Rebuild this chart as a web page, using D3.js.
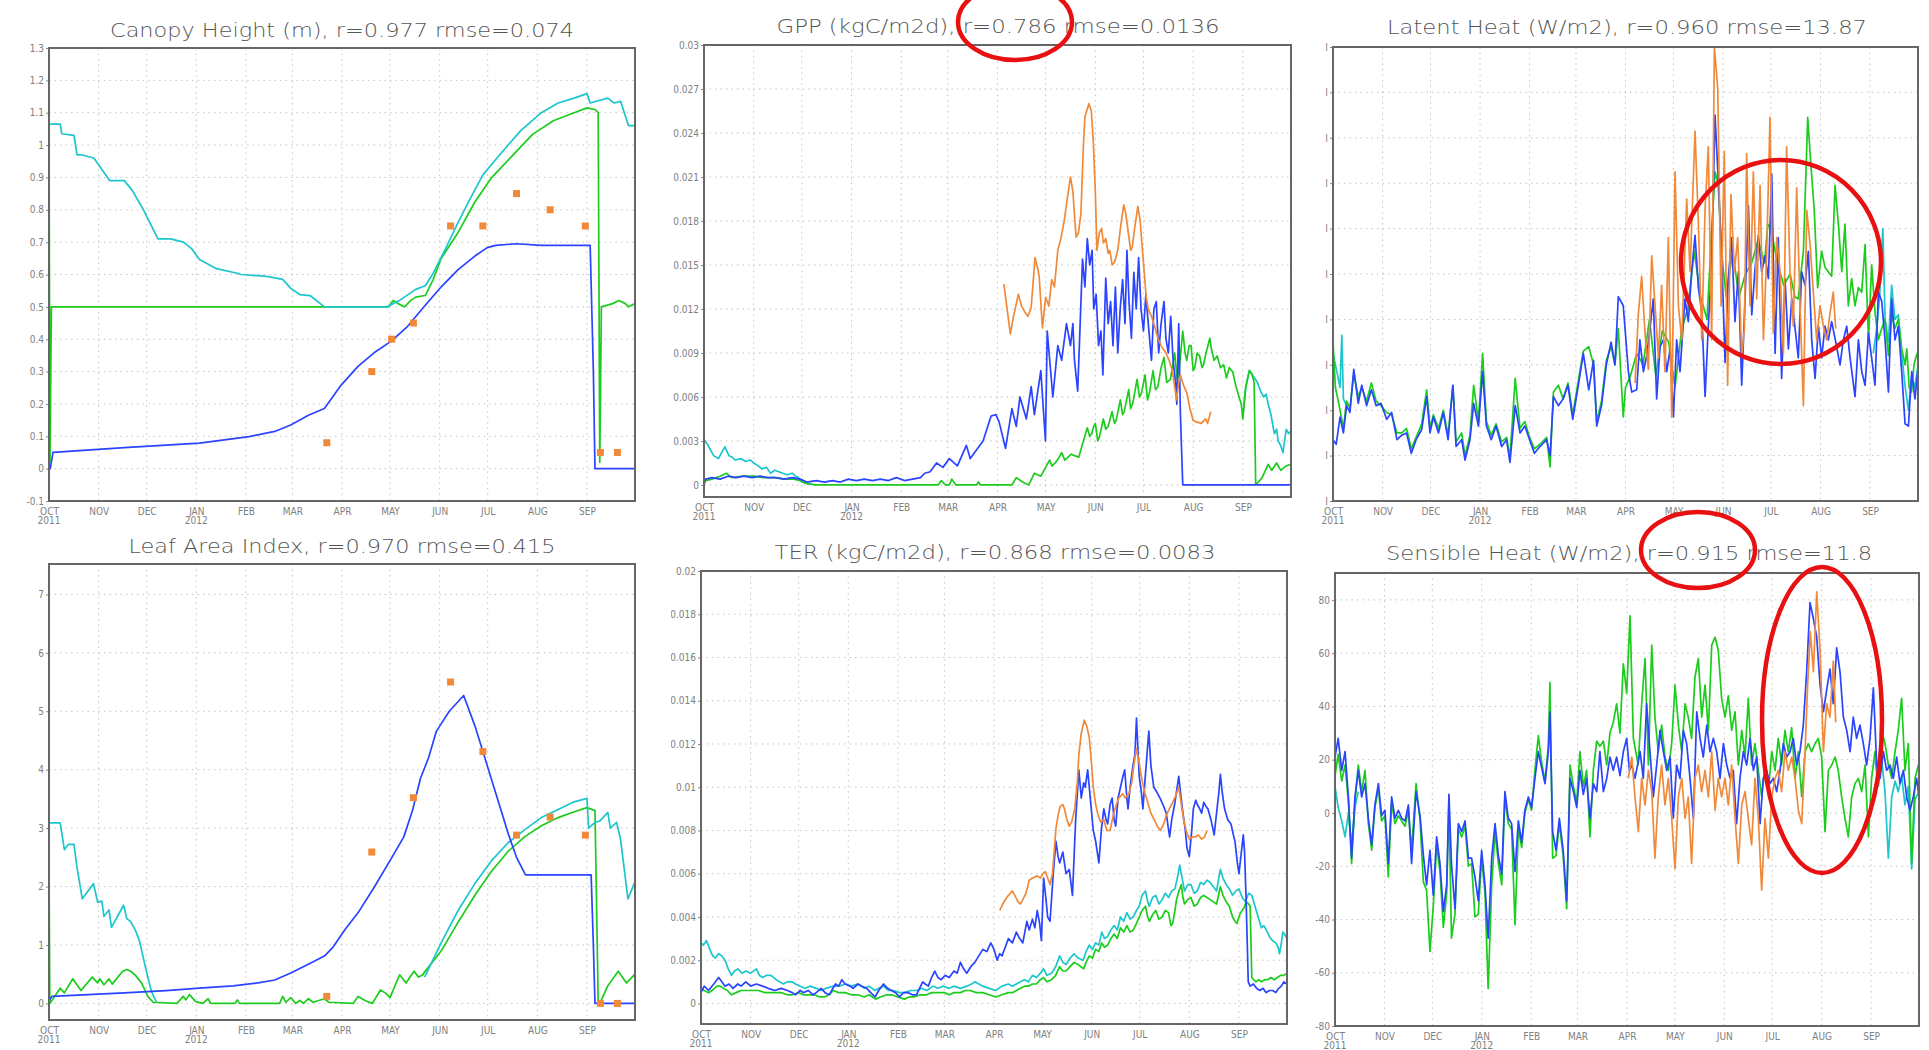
<!DOCTYPE html>
<html><head><meta charset="utf-8">
<script src="https://cdn.jsdelivr.net/npm/d3@7"></script>
<style>body{margin:0;background:#fff;overflow:hidden}svg{display:block}</style>
</head><body>
<svg id="c" width="1929" height="1050"></svg>
<script>
// ---------- shared axis data ----------
const monthDays = [0,31,61,92,123,152,183,213,244,274,305,336];
const monthLabels = ["OCT","NOV","DEC","JAN","FEB","MAR","APR","MAY","JUN","JUL","AUG","SEP"];
const yearDays = [0,92];
const yearLabels = ["2011","2012"];

// ---------- Canopy height ----------
const chTicks = [-0.1,0,0.1,0.2,0.3,0.4,0.5,0.6,0.7,0.8,0.9,1,1.1,1.2,1.3];
const chTickLabels = ["-0.1","0","0.1","0.2","0.3","0.4","0.5","0.6","0.7","0.8","0.9","1","1.1","1.2","1.3"];
const chCyan = [[0,1.065],[7,1.065],[8,1.035],[15.6,1.03],[17.5,0.97],[20,0.97],[28,0.96],[38,0.89],[47,0.89],[52,0.86],[59,0.80],[68,0.71],[76,0.71],[84,0.70],[89,0.68],[94,0.646],[104.6,0.618],[117.6,0.604],[120,0.60],[136,0.594],[146,0.585],[151,0.557],[156.6,0.538],[163,0.535],[172,0.50],[211,0.50],[215,0.51],[219,0.52],[229,0.554],[235,0.565],[240,0.604],[248,0.683],[255.5,0.761],[263,0.834],[271,0.908],[281.5,0.97],[294.5,1.044],[307.5,1.10],[318,1.13],[328,1.145],[336,1.159],[338,1.13],[349,1.145],[353,1.13],[357,1.135],[362,1.06],[366,1.06]];
const chGreen = [[0,1.04],[0.6,0.02],[1.5,0.5],[60,0.5],[120,0.5],[212,0.5],[215,0.52],[218,0.51],[222,0.50],[226,0.52],[229,0.53],[235,0.535],[240,0.585],[245,0.65],[255.5,0.73],[266,0.824],[276,0.897],[289,0.965],[302,1.033],[315,1.075],[328,1.1],[336,1.115],[341,1.11],[343,1.10],[344,0.02],[345,0.5],[352,0.51],[356,0.52],[360,0.51],[362,0.5],[366,0.51]];
const chBlue = [[0,0],[0.8,0.0],[2.5,0.05],[47,0.065],[94,0.079],[125,0.099],[141,0.115],[151,0.135],[162,0.165],[172,0.186],[182.6,0.259],[193,0.316],[203,0.358],[214,0.395],[224,0.44],[235,0.505],[245,0.562],[255.5,0.615],[266,0.657],[273.7,0.683],[279,0.69],[292,0.695],[307.5,0.69],[338,0.69],[340,0.30],[341,0.0],[366,0]];
const chObs = [[173.5,0.08],[201.6,0.30],[214,0.40],[227.6,0.45],[250.8,0.75],[271,0.75],[292,0.85],[313,0.80],[335,0.75],[344.4,0.05],[355,0.05]];

// ---------- Leaf area index ----------
const laiTicks = [0,1,2,3,4,5,6,7];
const laiTickLabels = ["0","1","2","3","4","5","6","7"];
const laiCyan = [[0,3.09],[7,3.09],[9.6,2.63],[12,2.72],[15.6,2.72],[17.4,2.34],[20.8,1.79],[27.8,2.05],[30.4,1.73],[33,1.75],[34.3,1.49],[37.5,1.6],[39,1.3],[46.6,1.68],[48.6,1.45],[51,1.4],[54,1.25],[56.5,1.07],[60.4,0.6],[64,0.2],[67,0.03],null,[234.6,0.45],[245,1.04],[255.5,1.59],[266,2.05],[276,2.43],[286.7,2.75],[297,2.97],[307.5,3.18],[318,3.32],[328,3.45],[336,3.51],[337,3.0],[341,3.1],[344,3.12],[349,3.27],[350.6,3.0],[354.5,3.1],[357,2.8],[361.6,1.79],[366,2.08]];
const laiGreen = [[0,2.4],[0.5,0.0],[1.8,0.05],[7,0.26],[9.6,0.18],[14.8,0.42],[17.4,0.32],[20,0.22],[27,0.45],[30.4,0.35],[31.7,0.42],[34.3,0.32],[37.5,0.42],[39.5,0.33],[46,0.55],[48.6,0.58],[51,0.55],[54,0.48],[57.8,0.35],[61.7,0.12],[65,0.02],[80,0.0],[83.8,0.12],[85.5,0.06],[87.7,0.15],[91.6,0.03],[96,0.0],[99.4,0.08],[101,0.0],[116,0.0],[117.6,0.06],[119,0.0],[144,0.0],[146,0.12],[148,0.02],[151,0.1],[154,0.0],[156.6,0.05],[159,0.0],[162,0.08],[165,0.02],[172,0.08],[174.8,0.02],[190,0.0],[193,0.12],[198,0.04],[202,0.0],[207,0.23],[210,0.18],[213,0.1],[219,0.49],[223,0.35],[228,0.55],[230.8,0.45],[233,0.48],[245,0.9],[255.5,1.39],[266,1.85],[276,2.25],[286.7,2.6],[297,2.85],[307.5,3.04],[318,3.18],[328,3.28],[336,3.35],[341,3.3],[343,0.05],[344,0.0],[349,0.3],[355.5,0.55],[360.7,0.35],[366,0.5]];
const laiBlue = [[0,0.05],[1.8,0.12],[47,0.18],[73,0.22],[94,0.26],[115,0.30],[130.6,0.35],[141,0.40],[151,0.52],[162,0.67],[172,0.81],[177,0.95],[185,1.27],[193,1.55],[203.4,2.0],[214,2.49],[221.6,2.85],[227,3.3],[232,3.85],[237,4.2],[242,4.66],[250,5.0],[259,5.27],[266,4.75],[271,4.31],[279,3.6],[287,2.89],[292,2.5],[297.6,2.2],[307.5,2.2],[338.6,2.2],[340,1.0],[341,0.0],[366,0.0]];
const laiObs = [[173.5,0.12],[201.6,2.59],[227.6,3.52],[250.8,5.5],[271,4.31],[292,2.88],[313,3.19],[335,2.88],[344.4,0.0],[355,0.0]];

// ---------- GPP ----------
const gppTicks = [0,0.003,0.006,0.009,0.012,0.015,0.018,0.021,0.024,0.027,0.03];
const gppTickLabels = ["0","0.003","0.006","0.009","0.012","0.015","0.018","0.021","0.024","0.027","0.03"];
const gppCyan = [[0,0.0031],[2,0.0028],[4,0.0024],[6,0.0020],[9,0.0018],[11,0.0022],[13,0.0026],[15.6,0.0020],[17.5,0.0019],[19.5,0.0017],[23,0.0018],[26,0.0016],[29,0.0017],[31,0.0015],[34,0.0013],[36,0.0011],[39,0.0012],[41.5,0.0008],[44,0.0010],[46.7,0.0009],[49,0.0008],[52,0.0007],[55,0.0008],[57,0.0006],[59,0.0005],[61,0.0002],[64,0.0001],[70,0.0],null,[336,0.0047],[338,0.0068],[340,0.0078],[342,0.0075],[345,0.0070],[347,0.0064],[349,0.0060],[350.5,0.0062],[351.8,0.0055],[353.5,0.0048],[355.6,0.0035],[357,0.0038],[358,0.0030],[359.5,0.0027],[361,0.0022],[362,0.0030],[363,0.0038],[364.5,0.0035],[366,0.0037]];
const gppGreen = [[0,0.0003],[1,0.0003],[5,0.0004],[10,0.0006],[14,0.0008],[16,0.0006],[18,0.0005],[24,0.0006],[31,0.0006],[37,0.0005],[44,0.0005],[50,0.0004],[56,0.0004],[60,0.0003],[63.6,0.0001],[70,0.0],[146,0.0],[148,0.0003],[150.6,0.0],[153,0.0],[154.5,0.0004],[157,0.0],[170,0.0],[171,0.0002],[172.5,0.0],[192,0.0],[194.7,0.0005],[198.6,0.0002],[202.5,0.0],[206,0.0008],[210,0.0006],[213,0.0012],[215.5,0.0017],[217,0.0013],[219,0.0015],[221,0.0018],[223,0.0022],[225,0.0017],[227,0.0019],[229,0.0021],[231,0.0020],[233.7,0.0019],[236,0.0028],[239,0.0039],[240.5,0.0033],[241.7,0.0035],[243,0.0040],[244,0.0042],[245.5,0.0030],[246.6,0.0033],[249,0.0045],[250.5,0.0038],[252,0.0040],[254.4,0.0050],[256,0.0042],[257,0.0044],[259.6,0.0058],[261,0.0048],[262,0.0050],[264.8,0.0065],[266,0.0052],[267.4,0.0056],[270,0.0072],[271.5,0.0060],[272.6,0.0062],[275,0.0075],[276.5,0.0058],[277.8,0.0063],[280,0.0078],[281.5,0.0065],[283,0.0067],[285,0.0080],[286.8,0.0087],[288.5,0.0070],[290.8,0.0072],[293.5,0.0090],[295,0.0072],[296,0.0075],[298.5,0.0105],[300,0.0090],[301,0.0085],[302.5,0.0095],[303.7,0.0095],[305,0.0078],[306,0.0080],[307.5,0.0090],[309,0.0088],[310.5,0.0080],[311.5,0.0082],[313,0.0090],[315.4,0.0100],[316.5,0.0092],[318,0.0085],[320,0.0088],[322,0.0080],[324,0.0082],[325.8,0.0073],[327.5,0.0080],[329.7,0.0077],[331.5,0.0068],[333.6,0.0060],[335,0.0055],[336,0.0045],[337.5,0.0065],[340,0.0078],[341.5,0.0076],[343,0.0070],[344,0.0],[348,0.0005],[351.8,0.0014],[354,0.0010],[357,0.0015],[359.6,0.0010],[363,0.0013],[366,0.0014]];
const gppBlue = [[0,0.0],[1,0.0004],[5,0.0005],[10,0.0004],[15,0.0006],[20,0.0005],[25,0.0006],[30,0.0005],[35,0.0006],[40,0.0005],[45,0.0005],[50,0.0004],[55,0.0005],[60,0.0004],[64,0.0002],[70,0.0003],[75,0.0002],[80,0.0003],[85,0.0002],[90,0.0004],[95,0.0003],[100,0.0004],[105,0.0003],[110,0.0004],[115,0.0003],[120,0.0005],[125,0.0003],[130,0.0004],[135,0.0005],[137.6,0.0008],[141,0.0009],[145,0.0015],[149,0.0012],[153,0.0018],[158,0.0013],[163.6,0.0027],[166,0.0018],[170,0.0024],[174,0.003],[179,0.0047],[182,0.0048],[184,0.0043],[188,0.0025],[192,0.0052],[194.7,0.004],[197,0.006],[201,0.0045],[204,0.0067],[206,0.0048],[210,0.0078],[212.9,0.003],[214,0.0105],[217.5,0.006],[220.6,0.0095],[223,0.0085],[226,0.011],[228.5,0.0095],[230,0.011],[231,0.0085],[233,0.0064],[236,0.0154],[237.5,0.0135],[239,0.0168],[240.5,0.0150],[242,0.0160],[243,0.0120],[244.5,0.0130],[246,0.0095],[247.5,0.0105],[248.7,0.0075],[250.5,0.0141],[252,0.0110],[253.5,0.0125],[255,0.0095],[256.5,0.0135],[258,0.0090],[259.5,0.0120],[261,0.0140],[262.5,0.0110],[263.7,0.0160],[265,0.0125],[266.5,0.0100],[268,0.0145],[269.5,0.0120],[271,0.0155],[272.5,0.0120],[274,0.0105],[275.5,0.0130],[277,0.0110],[279,0.0085],[280.5,0.0120],[282,0.0125],[283.5,0.0090],[285,0.0110],[286.8,0.0125],[288,0.0100],[289.5,0.0090],[291,0.0115],[292.5,0.0085],[294,0.0070],[294.8,0.0055],[296,0.0110],[297,0.0050],[298.5,0.0],[366,0.0]];
const gppOrange = [[187,0.0137],[189,0.0120],[191,0.0103],[193,0.0115],[196,0.0130],[198,0.0122],[200,0.0118],[202,0.0115],[204,0.0121],[206.4,0.0155],[208,0.0148],[209,0.0142],[211,0.0107],[213,0.0128],[215,0.0122],[216.8,0.0140],[218.5,0.0135],[220.6,0.0160],[222.5,0.0168],[224.6,0.0180],[226.5,0.0195],[228.5,0.0210],[230,0.0200],[232,0.0169],[233.5,0.0172],[235,0.0185],[236.5,0.0230],[237.5,0.0251],[240,0.0260],[241.5,0.0255],[242.7,0.0235],[244,0.0200],[245,0.0160],[246.5,0.0172],[247.9,0.0175],[249,0.0165],[250.5,0.0168],[252,0.0158],[253,0.0160],[254.5,0.0150],[256,0.0152],[258,0.0160],[260,0.0178],[261.7,0.0191],[263,0.0185],[264.8,0.0170],[266,0.0160],[267,0.0162],[268.5,0.0175],[270.5,0.0190],[272,0.0180],[273,0.0165],[274.5,0.0145],[275.7,0.0128],[277,0.0120],[279,0.0115],[281,0.0108],[283,0.0100],[285,0.0095],[288,0.0090],[290,0.0085],[292,0.0078],[294.6,0.0058],[296,0.0070],[297,0.0075],[299,0.0068],[301,0.0063],[303,0.0052],[305,0.0044],[307,0.0043],[310,0.0042],[312.8,0.0045],[314,0.0042],[316,0.0050]];

// ---------- TER ----------
const terTicks = [0,0.002,0.004,0.006,0.008,0.01,0.012,0.014,0.016,0.018,0.02];
const terTickLabels = ["0","0.002","0.004","0.006","0.008","0.01","0.012","0.014","0.016","0.018","0.02"];
const terCyan = [[0,0.0028],[1.5,0.0027],[3.4,0.0029],[5.5,0.0025],[7.3,0.0022],[9,0.0021],[11,0.0023],[13,0.0022],[15,0.0020],[17,0.0016],[19,0.0013],[21,0.0015],[23,0.0016],[25.5,0.0014],[28,0.0015],[31,0.0014],[34.6,0.0016],[36.5,0.0013],[38.5,0.0012],[41,0.0013],[43.7,0.0013],[47,0.0011],[49,0.0010],[51.5,0.0009],[54,0.0010],[56.7,0.0010],[59,0.0009],[62,0.0008],[65,0.0007],[68,0.0008],[72,0.0007],[75,0.0006],[78,0.0007],[82.7,0.0008],[86,0.0008],[90.5,0.0009],[94,0.0008],[98,0.0009],[102,0.0007],[105,0.0008],[108.7,0.0006],[111,0.0007],[114,0.0008],[117,0.0006],[120,0.0006],[124,0.0005],[127,0.0005],[131,0.0006],[134.6,0.0006],[138,0.0007],[141,0.0006],[145,0.0008],[148,0.0007],[151,0.0008],[155,0.0007],[158,0.0008],[162,0.0007],[166,0.0008],[169,0.0009],[171,0.0010],[173.5,0.0009],[176,0.0008],[180,0.0007],[184,0.0006],[188,0.0008],[192,0.0009],[194.5,0.0008],[197,0.0009],[199.5,0.0010],[202,0.0011],[204.5,0.0010],[207,0.0013],[209.5,0.0012],[212,0.0014],[214,0.0016],[216,0.0013],[219,0.0014],[221.5,0.0017],[224,0.0022],[226,0.0019],[228,0.0018],[230.5,0.0021],[233,0.0023],[235.5,0.0021],[238.7,0.0020],[240.5,0.0024],[242.5,0.0027],[244.5,0.0025],[246.4,0.0028],[248.5,0.0027],[250.3,0.0033],[252,0.0030],[254,0.0031],[256,0.0034],[258,0.0036],[260,0.0034],[262,0.0040],[264,0.0038],[266,0.0042],[268,0.0039],[270,0.0040],[272,0.0043],[273.7,0.0045],[275.5,0.0050],[277.6,0.0052],[279,0.0047],[280,0.0045],[282,0.0049],[284,0.0050],[286,0.0046],[288,0.0048],[290,0.0051],[292,0.0049],[294,0.0052],[296,0.0053],[297.5,0.0058],[299,0.0064],[300.5,0.0058],[302,0.0052],[304,0.0055],[306,0.0055],[308,0.0051],[310,0.0052],[312,0.0056],[314,0.0055],[316,0.0057],[318,0.0056],[320,0.0054],[322,0.0052],[324.4,0.0062],[326,0.0058],[328,0.0055],[330,0.0053],[332,0.0050],[334,0.0052],[336,0.0053],[338,0.0049],[340,0.0047],[342,0.0051],[344,0.0050],[346,0.0045],[348,0.0040],[350,0.0035],[351.5,0.0036],[353,0.0034],[355,0.0031],[357,0.0029],[359,0.0028],[360.5,0.0026],[361.3,0.0023],[362.5,0.0028],[363.4,0.0033],[364.5,0.0032],[366,0.0030]];
const terGreen = [[0,0.0007],[2,0.0006],[4.7,0.0005],[7,0.0006],[10,0.0008],[12,0.0008],[14,0.0007],[16.5,0.0006],[19,0.0004],[22,0.0005],[25,0.0006],[28,0.0006],[32,0.0006],[36,0.0006],[40,0.0005],[46,0.0005],[50,0.0005],[54,0.0004],[57,0.0004],[61,0.0005],[64,0.0004],[67,0.0004],[71,0.0004],[74,0.0003],[77,0.0003],[80,0.0004],[82.7,0.0006],[86,0.0005],[90,0.0005],[94,0.0004],[98,0.0004],[102,0.0003],[105,0.0004],[109,0.0002],[112,0.0003],[116,0.0004],[119,0.0004],[123,0.0003],[127,0.0002],[130,0.0003],[133,0.0003],[137,0.0004],[141,0.0004],[144,0.0005],[148,0.0005],[152,0.0005],[155,0.0004],[158,0.0005],[162,0.0005],[165,0.0006],[168,0.0006],[172,0.0005],[176,0.0005],[180,0.0004],[184,0.0003],[188,0.0004],[192,0.0005],[194.5,0.0005],[197,0.0006],[199.5,0.0007],[202,0.0008],[204.5,0.0008],[207,0.0009],[209.5,0.0009],[212,0.0011],[214,0.0012],[216,0.0010],[219,0.0011],[221.5,0.0013],[224,0.0017],[226,0.0015],[228,0.0015],[230.5,0.0017],[233,0.0019],[235.5,0.0018],[239,0.0016],[240.5,0.0019],[242.5,0.0022],[244.5,0.0021],[246.4,0.0025],[248.5,0.0024],[250.3,0.0028],[252,0.0026],[254,0.0027],[256,0.0030],[258,0.0032],[260,0.0030],[262,0.0035],[264,0.0033],[266,0.0036],[268,0.0033],[270,0.0034],[272,0.0037],[273.7,0.0040],[275.5,0.0043],[277.6,0.0045],[279,0.0040],[280,0.0038],[282,0.0041],[284,0.0043],[286,0.0039],[288,0.0040],[290,0.0043],[292,0.0042],[293.5,0.0036],[294.6,0.0037],[296,0.0043],[297,0.0048],[298.5,0.0052],[300,0.0055],[301,0.0049],[302,0.0046],[304,0.0048],[306,0.0049],[308,0.0045],[310,0.0046],[312,0.0049],[314,0.0050],[316,0.0049],[318,0.0048],[320,0.0047],[322,0.0046],[324.4,0.0054],[326,0.0050],[328,0.0047],[330,0.0045],[332,0.0040],[333.5,0.0038],[334.7,0.0037],[336,0.0040],[337,0.0042],[339,0.0044],[340.5,0.0047],[342,0.0046],[343,0.0045],[344,0.0012],[346.5,0.0010],[348.5,0.0011],[350,0.0010],[352,0.0011],[354,0.0011],[356,0.0012],[358,0.0011],[360,0.0012],[362,0.0013],[364,0.0013],[366,0.0014]];
const terBlue = [[0,0.0005],[2,0.0008],[4.7,0.0006],[8,0.0009],[11,0.0012],[13,0.0010],[15,0.0008],[17.5,0.0009],[20,0.0007],[23,0.0009],[25,0.0008],[28,0.0010],[31,0.0008],[34.6,0.0009],[38.5,0.0008],[42,0.0007],[46,0.0006],[50,0.0007],[54,0.0006],[57,0.0005],[59,0.0004],[62,0.0006],[64,0.0005],[67,0.0006],[70,0.0004],[72,0.0005],[75,0.0007],[77.5,0.0005],[80,0.0004],[84,0.0009],[86,0.0008],[88,0.0011],[90,0.0009],[93,0.0008],[95,0.0007],[98,0.0009],[100.5,0.0008],[103.5,0.0007],[106,0.0005],[108.7,0.0003],[111,0.0006],[114,0.0009],[116.5,0.0007],[119,0.0006],[121.5,0.0005],[124,0.0003],[126.5,0.0005],[129.5,0.0005],[132,0.0004],[134.6,0.0004],[136.5,0.0007],[138.5,0.0010],[140,0.0009],[142,0.0008],[144,0.0012],[146,0.0015],[148,0.0012],[150,0.0011],[152.5,0.0013],[155,0.0012],[158,0.0015],[160,0.0014],[162,0.0019],[164,0.0016],[166,0.0014],[168.5,0.0017],[171,0.0019],[173.5,0.0022],[176,0.0025],[178.5,0.0024],[181,0.0028],[183,0.0025],[185,0.0020],[186.5,0.0023],[188,0.0022],[190,0.0026],[192,0.0030],[194.5,0.0028],[197,0.0033],[199,0.0030],[201,0.0028],[203.5,0.0038],[205,0.0034],[207,0.0039],[208.5,0.0035],[210,0.0043],[211.5,0.0037],[212.6,0.0029],[214,0.0058],[215.5,0.0048],[216.5,0.0040],[218,0.0038],[220,0.0060],[221.7,0.0075],[223,0.0068],[224,0.0065],[226,0.0070],[228,0.0060],[230,0.0062],[232,0.0050],[234,0.0085],[236,0.0108],[237.5,0.0095],[239,0.0102],[240,0.0100],[241.5,0.0108],[242.5,0.0100],[244,0.0088],[245,0.0080],[246.5,0.0075],[248.5,0.0065],[250,0.0080],[251.6,0.0090],[253,0.0085],[254,0.0083],[255.5,0.0092],[256.8,0.0095],[258,0.0085],[259,0.0082],[260.5,0.0095],[262,0.0100],[263.5,0.0105],[264.6,0.0108],[266,0.0095],[266.7,0.0090],[268,0.0100],[269.8,0.0110],[271,0.0115],[272,0.0132],[273.7,0.0105],[275,0.0098],[276,0.0090],[277.5,0.0105],[279.7,0.0126],[281,0.0110],[282.8,0.0100],[284.5,0.0098],[286.7,0.0095],[288.5,0.0092],[290.6,0.0088],[291.7,0.0082],[292.7,0.0077],[294,0.0085],[295.8,0.0092],[297,0.0098],[298.4,0.0105],[299.7,0.0096],[301,0.0088],[302.5,0.0080],[303.5,0.0072],[305,0.0068],[306.5,0.0080],[307.5,0.0090],[309,0.0094],[310,0.0092],[311.5,0.0090],[312.7,0.0088],[314,0.0093],[315.5,0.0091],[316.6,0.0090],[318.5,0.0085],[320.5,0.0078],[322,0.0088],[323.5,0.0098],[324.4,0.0106],[325.5,0.0098],[327,0.0090],[329,0.0085],[331,0.0083],[332.5,0.0078],[333.5,0.0075],[335,0.0065],[336,0.0060],[337.5,0.0070],[338.7,0.0078],[339.5,0.0070],[340.5,0.0047],[341.8,0.0010],[343,0.0008],[345,0.0009],[347,0.0007],[349,0.0006],[351,0.0007],[353,0.0005],[355,0.0006],[357,0.0006],[359,0.0005],[360.8,0.0007],[362.5,0.0008],[364,0.0010],[366,0.0009]];
const terOrange = [[186.6,0.0043],[188.5,0.0046],[190,0.0048],[192,0.0050],[194.4,0.0052],[196,0.0050],[198,0.0047],[199.5,0.0046],[201,0.0048],[203,0.0051],[205,0.0057],[207,0.0058],[210,0.0059],[212,0.0058],[213.5,0.0060],[215,0.0061],[216.5,0.0058],[218,0.0055],[219.5,0.0060],[221.7,0.0081],[223,0.0087],[224.3,0.0091],[226,0.0092],[227,0.0090],[228.5,0.0085],[230,0.0082],[231.5,0.0084],[233.4,0.0090],[235,0.0102],[236,0.0115],[237.5,0.0125],[239.4,0.0131],[241,0.0128],[242.5,0.0123],[244,0.0110],[245,0.0100],[246.5,0.0092],[247.7,0.0088],[249.5,0.0084],[251.6,0.0085],[253.5,0.0080],[255.5,0.0080],[257.5,0.0087],[259.4,0.0092],[261,0.0095],[263.3,0.0097],[265,0.0095],[267.2,0.0097],[269,0.0102],[270.3,0.0110],[272,0.0118],[273.5,0.0112],[275,0.0105],[277,0.0098],[279,0.0093],[281,0.0088],[283,0.0085],[285,0.0082],[287,0.0080],[289,0.0083],[290.6,0.0087],[292.5,0.0090],[294.6,0.0093],[296.5,0.0096],[298.4,0.0100],[300,0.0092],[301.5,0.0085],[303,0.0080],[305,0.0076],[307,0.0077],[308.8,0.0077],[310.5,0.0078],[312.7,0.0076],[314.5,0.0077],[316,0.0080]];

// ---------- Latent heat ----------
const leTicks = [-20,0,20,40,60,80,100,120,140,160,180];
const leTickLabels = ["I","I","I","I","I","I","I","I","I","I","I"];
const leCyan = [[0,45],[1.5,40],[3,35],[4.4,30],[5.5,53],[6.5,25],[8.5,22],null,[338,45],[340,55],[342,70],[344,100],[345.4,60],[347.5,50],[349.5,75],[351.6,60],[353.7,62],[355.8,45],[358,30],[360,20],[362,35],[364,30],[366,40]];
const leGreen = [[0,50],[1.5,30],[3,25],[4.4,20],[6.5,12],[8.5,24],[10.6,21],[13,36],[15.8,26],[18,30],[21,24],[24,32],[27,24],[30,22],[33.6,19],[36.7,18],[40,10],[43,10],[46,12],[49,3],[52,8],[55.5,14],[58.6,29],[60.7,12],[62.8,18],[66,12],[69,20],[72,9],[75,31],[77,6],[80.5,10],[82.6,0],[85.7,9],[88,31],[91,15],[93.6,45],[96,15],[99,9],[102,14],[105.5,6],[108.6,8],[110.7,-1],[114,34],[117,12],[120,15],[123,8],[126,3],[129.5,5],[133.7,8],[135.8,-5],[137.9,28],[141,31],[144,25],[147,32],[150,18],[153.5,33],[156.6,46],[160,48],[163,40],[165,15],[168,24],[171,42],[174,48],[176.4,40],[178.5,56],[181.6,17],[183,30],[186,35],[190,45],[194,40],[198,60],[202,35],[206,55],[210,50],[214,30],[218,55],[222,65],[226,90],[230,70],[234,60],[237,100],[239,125],[241,120],[243,90],[246,70],[250,90],[254,70],[258,80],[262,85],[266,95],[270,85],[272,102],[274,100],[278,85],[282,75],[286,80],[289,70],[291,69],[294.3,90],[297,149],[299,128],[301.1,108],[303.2,74],[305.7,90],[307.8,83],[309.9,81],[312,79],[314.1,119],[316.2,102],[318.3,81],[320.3,102],[322.4,66],[324.5,78],[326.6,66],[328.7,74],[330.8,72],[332.9,93],[335,51],[337,84],[339.1,63],[341.2,51],[343.3,56],[345.4,60],[347.5,44],[349.5,62],[351.6,56],[353.7,60],[355.8,47],[357.9,40],[359,47],[360.5,30],[362,28],[363.5,40],[365,44],[366,46]];
const leBlue = [[0,7],[2,5],[4.4,17],[6.5,10],[8.5,22],[10.6,19],[13,38],[15.8,23],[18,31],[21,22],[24,29],[27,22],[30,23],[33.6,16],[36.7,19],[40,7],[43,9],[46,10],[49,1],[52,7],[55.5,11.5],[58.6,26],[60.7,10],[62.8,17],[66,10],[69,19],[72,7],[75,31],[77,4],[80.5,7],[82.6,-2],[85.7,7],[88,23],[91,13],[93.6,37],[96,13],[99,7],[102,13],[105.5,4],[108.6,7],[110.7,-3],[114,22],[117,10],[120,13],[123,7],[126,1],[129.5,4],[133.7,7],[135.8,0],[137.9,26],[141,22],[144,25],[147,31],[150,16],[153.5,31],[156.6,45],[160,29],[163,42],[165,13],[168,22],[171,40],[174,50],[176.4,40],[178.5,70],[181.6,66],[184.8,37],[186.9,28],[190,29],[192,51],[194.2,37],[196.3,44],[198.3,56],[200.4,69],[202.5,25],[204.6,48],[206.7,51],[208.8,37],[210.9,47],[213,17],[215,51],[217.1,37],[220.2,69],[222.3,59],[224.4,81],[226.5,97],[228.6,74],[230.7,63],[232.8,26],[234.8,57],[236.9,84],[239,150],[241,122],[243.2,88],[245.3,41],[247.3,78],[249.4,96],[251.5,59],[253.6,81],[255.7,31],[257.8,69],[259.9,110],[262,62],[264,82],[266.1,97],[268.2,81],[270.3,88],[272.4,78],[274.5,124],[276.6,45],[278.6,96],[280.7,34],[282.8,78],[284.9,47],[287,69],[289.1,56],[291.1,43],[293.2,81],[295.3,75],[297.4,90],[299.5,51],[301.6,34],[303.7,57],[305.7,43],[307.8,57],[309.9,51],[312,59],[315.1,48],[317.2,40],[319.3,51],[321.4,57],[323.5,43],[326.6,26],[328.7,51],[330.8,37],[332.9,31],[335,54],[337,43],[339.1,31],[341.2,72],[343.3,68],[345.4,51],[347.5,28],[349.5,69],[351.6,51],[353.7,57],[355.8,37],[357.9,14],[360,13],[362.1,37],[364.1,25],[365.8,37]];
const leOrange = [[189,32],[191,62],[193.1,79],[195.2,54],[197.3,38],[199.4,88],[201.5,66],[203.6,43],[205.6,75],[207.7,37],[209.8,96],[211.9,17],[214,125],[216.1,66],[218.2,51],[221.3,113],[223.4,81],[226.5,143],[228.6,102],[230.7,51],[232.8,109],[234.8,136],[236.9,51],[238.6,180],[240.7,162],[242.8,66],[244.8,134],[246.9,31],[249,115],[251.1,81],[253.2,96],[255.7,44],[257.4,56],[258.8,133],[260.9,66],[263,125],[265.1,69],[267.2,119],[269.3,51],[271.3,88],[273.4,149],[275.5,54],[277.6,96],[279.7,81],[281.8,45],[283.8,136],[285.9,81],[288,57],[290.1,118],[292.2,66],[294.3,22],[296.4,108],[298.5,93],[300.5,72],[302.6,51],[304.7,66],[306.8,57],[308.9,51],[311,63],[313,72],[314.5,56]];

// ---------- Sensible heat ----------
const shTicks = [-80,-60,-40,-20,0,20,40,60,80];
const shTickLabels = ["-80","-60","-40","-20","0","20","40","60","80"];
const shCyan = [[0,10],[2,2],[4.2,-3],[6.3,-9],[8.4,0],[10.4,-12],[12.5,2],[14.6,8],null,[338.4,20],[340.5,10],[342.6,20],[344.7,8],[346.8,-17],[348.9,6],[351,12],[353,8],[355.1,14],[357.2,3],[359.3,10],[361.4,-21],[363.5,5],[366,8]];
const shGreen = [[0,14],[2,22],[4.2,12],[6.3,18],[8.4,4],[10.4,-19],[12.5,4],[14.6,18],[16.7,8],[18.8,16],[20.9,-4],[23,-14],[25,2],[27.2,9],[29.2,-3],[31.3,-1],[33.4,-24],[35.5,4],[37.6,-4],[39.7,-1],[41.8,-3],[43.9,-5],[46,1],[48,-14],[50.8,11],[53.3,-3],[55.4,-26],[57.4,-29],[59.5,-52],[61.6,-35],[63.7,-12],[65.8,-22],[67.9,-43],[70,-30],[71.4,5],[73,-47],[75.2,-38],[77.3,-6],[79.4,-9],[81.5,-5],[83.6,-20],[85.6,-19],[87.7,-39],[89.8,-38],[91.9,-17],[94,-30],[96,-66],[98.2,-27],[100.3,-7],[102.4,-19],[104.5,-27],[106.5,6],[108.6,-4],[110.7,-6],[112.8,-42],[114.9,-6],[117,-13],[119,0],[121.2,5],[123.2,1],[125.3,16],[127.4,29],[129.5,19],[131.6,12],[133.7,25],[134.7,49],[136.4,-17],[138.5,-16],[140.6,-4],[143,-16],[145.2,-36],[147.3,18],[149.4,10],[151.5,4],[153.5,23],[155.6,10],[157.7,16],[159.8,-9],[161.9,16],[164,27],[166,25],[168.2,27],[170.3,18],[172.3,30],[174.4,34],[176.5,41],[178.6,30],[180.7,56],[182.8,45],[184.9,74],[187,28],[190,18],[192.2,41],[194.3,58],[196.4,18],[198.5,63],[200.5,36],[202.6,23],[204.7,33],[206.8,21],[208.9,16],[211,26],[213.1,48],[215.2,33],[217.3,23],[219.4,41],[221.4,36],[223.5,28],[225.6,51],[227.7,58],[229.8,36],[231.9,48],[234,31],[236.1,63],[238.2,66],[240.2,61],[242.3,43],[244.4,36],[246.5,44],[248.6,31],[250.7,38],[252.8,18],[254.9,31],[257,21],[259,43],[261.1,18],[263.2,26],[265.3,16],[267.4,6],[269.5,18],[271.6,8],[273.7,23],[275.8,16],[277.8,28],[279.9,18],[282,31],[284.1,23],[286.2,32],[288.3,13],[290.4,23],[292.5,6],[294.6,23],[296.6,26],[298.7,23],[300.8,26],[302.9,28],[305,21],[307.1,-7],[309.2,16],[311.3,18],[313.4,21],[315.4,16],[317.5,6],[319.6,-2],[321.7,-9],[323.8,6],[325.9,11],[328,13],[330.1,8],[332.2,18],[334.3,-9],[336.3,13],[338.4,23],[340.5,16],[342.6,31],[344.7,26],[346.8,18],[348.9,13],[351,23],[353,31],[355.1,43],[357.2,16],[359.3,26],[361.4,-19],[363.5,13],[365.6,18],[366,15]];
const shBlue = [[0,21],[2,28],[4.2,16],[6.3,23],[8.4,6],[10.4,-17],[12.5,6],[14.6,16],[16.7,6],[18.8,11],[20.9,-2],[23,-12],[25,3],[27.2,11],[29.2,-1],[31.3,1],[33.4,-19],[35.5,6],[37.6,-2],[39.7,1],[41.8,-2],[43.9,-3],[46,3],[48,-19],[50.8,8],[53.3,-1],[55.4,-16],[57.4,-27],[59.5,-14],[61.6,-31],[63.7,-9],[65.8,-19],[67.9,-37],[70,-27],[71.4,7],[73,-19],[75.2,-36],[77.3,-4],[79.4,-7],[81.5,-3],[83.6,-17],[85.6,-17],[87.7,-24],[89.8,-33],[91.9,-14],[94,-27],[96,-47],[98.2,-17],[100.3,-4],[102.4,-16],[104.5,-23],[106.5,8],[108.6,-2],[110.7,-4],[112.8,-22],[114.9,-3],[117,-11],[119,1],[121.2,6],[123.2,2],[125.3,13],[127.4,23],[129.5,17],[131.6,11],[133.7,23],[134.7,38],[136.4,-7],[138.5,-14],[140.6,-2],[143,-14],[145.2,-33],[147.3,13],[149.4,8],[151.5,2],[153.5,16],[155.6,7],[157.7,13],[159.8,-2],[161.9,11],[164,8],[166,23],[168.2,8],[170.3,13],[172.3,21],[174.4,16],[176.5,21],[178.6,14],[180.7,23],[182.8,28],[184.5,16],[186,18],[188,13],[191.2,23],[193.2,13],[195.3,41],[197.4,23],[199.5,6],[201.6,18],[203.7,31],[205.8,23],[207.9,16],[210,21],[212,-2],[214.1,18],[216.2,13],[218.3,31],[220.4,26],[222.5,13],[224.6,-2],[226.7,38],[228.8,28],[230.8,21],[233,33],[235,23],[237.1,28],[239.2,23],[241.3,13],[243.4,26],[245.5,18],[247.6,13],[249.6,16],[251.7,-4],[253.8,13],[255.9,23],[258,18],[260.1,28],[262.2,16],[264.3,21],[266.4,-4],[268.4,13],[270.5,16],[272.6,11],[274.7,13],[276.8,8],[278.9,16],[281,26],[283.1,21],[285.2,23],[287.2,28],[289.3,18],[291.4,23],[293.5,33],[295.6,53],[297.7,79],[299.8,73],[301.9,66],[304,48],[306.1,38],[308.1,46],[310.2,54],[312.3,41],[314.4,62],[316.5,53],[318.6,36],[320.7,31],[322.8,23],[324.8,36],[326.9,28],[329,33],[331.1,26],[333.2,18],[335.3,28],[337.4,47],[339.5,18],[341.6,13],[343.7,23],[345.7,16],[347.8,18],[349.9,13],[352,21],[354.1,11],[356.2,16],[358.3,6],[360.4,1],[362.4,6],[364.5,13],[366,6]];
const shOrange = [[183.8,13],[186,21],[188,6],[190.1,-7],[192.2,13],[194.3,3],[196.4,16],[198.5,8],[200.5,-17],[202.6,6],[204.7,18],[206.8,3],[208.9,13],[211,-2],[213.1,-21],[215.2,6],[217.3,13],[219.4,-2],[221.4,6],[223.5,-19],[225.6,13],[227.7,18],[229.8,8],[231.9,16],[234,6],[236.1,23],[238.2,1],[240.2,13],[242.3,6],[244.4,13],[246.5,3],[248.6,18],[250.7,-2],[252.8,-19],[254.9,3],[257,8],[259,-2],[261.1,-12],[263.2,13],[265.3,-2],[267.4,-29],[269.5,-2],[271.6,-17],[273.7,6],[275.8,13],[277.8,16],[279.9,8],[282,23],[284.1,16],[286.2,21],[288.3,13],[290.4,1],[292.5,-4],[294.6,23],[296.2,48],[297.9,68],[299.8,53],[301.9,83],[304,61],[306.1,23],[308.1,41],[310.2,36],[312.3,57],[313.8,34]];

// ---------- layout & style ----------
const COL = {cyan:"#1cc6cc", green:"#1ccc1c", blue:"#2a44ff", orange:"#f08a3a"};
const TICKFONT = "'Liberation Sans Narrow','DejaVu Sans Condensed',sans-serif";
const TITLEFONT = "'DejaVu Sans','Liberation Sans',sans-serif";

const panels = [
  {frame:[49,48,635,501], yDomain:[-0.1,1.3], ticks:chTicks, labels:chTickLabels,
   title:"Canopy Height (m), r=0.977 rmse=0.074", tx:342, ty:37, tw:464,
   series:[["green",chGreen],["cyan",chCyan],["blue",chBlue]], obs:chObs},
  {frame:[704,45,1291,497], yDomain:[-0.00082,0.03], ticks:gppTicks, labels:gppTickLabels,
   title:"GPP (kgC/m2d), r=0.786 rmse=0.0136", tx:998, ty:33, tw:443,
   series:[["cyan",gppCyan],["green",gppGreen],["blue",gppBlue],["orange",gppOrange]]},
  {frame:[1333,47,1918,501], yDomain:[-20,180], ticks:leTicks, labels:leTickLabels,
   title:"Latent Heat (W/m2), r=0.960 rmse=13.87", tx:1627, ty:34, tw:480,
   series:[["cyan",leCyan],["green",leGreen],["blue",leBlue],["orange",leOrange]]},
  {frame:[49,564,635,1020], yDomain:[-0.284,7.52], ticks:laiTicks, labels:laiTickLabels,
   title:"Leaf Area Index, r=0.970 rmse=0.415", tx:342, ty:553, tw:427,
   series:[["green",laiGreen],["cyan",laiCyan],["blue",laiBlue]], obs:laiObs},
  {frame:[701,571,1287,1024], yDomain:[-0.00095,0.02], ticks:terTicks, labels:terTickLabels,
   title:"TER (kgC/m2d), r=0.868 rmse=0.0083", tx:995, ty:559, tw:441, clipLabelsAt:671,
   series:[["cyan",terCyan],["green",terGreen],["blue",terBlue],["orange",terOrange]]},
  {frame:[1335,573,1919,1026], yDomain:[-80,90.1], ticks:shTicks, labels:shTickLabels,
   title:"Sensible Heat (W/m2), r=0.915 rmse=11.8", tx:1629, ty:560, tw:486,
   series:[["cyan",shCyan],["green",shGreen],["blue",shBlue],["orange",shOrange]]}
];

const ellipses = [
  {cx:1015, cy:22, rx:57, ry:38},
  {cx:1781, cy:262, rx:100, ry:102},
  {cx:1698, cy:550, rx:57, ry:38},
  {cx:1822, cy:720, rx:60, ry:153}
];

const svg = d3.select("#c");
svg.append("rect").attr("width",1929).attr("height",1050).attr("fill","#fff");
const defs = svg.append("defs");

panels.forEach((p,i)=>{
  const [x0,y0,x1,y1] = p.frame;
  const x = d3.scaleLinear().domain([0,366]).range([x0,x1]);
  const y = d3.scaleLinear().domain(p.yDomain).range([y1,y0]);
  const g = svg.append("g");

  // title
  g.append("text").attr("x",p.tx).attr("y",p.ty).attr("text-anchor","middle")
   .attr("font-family",TITLEFONT).attr("font-weight",200).attr("font-size",19).attr("fill","#555")
   .attr("textLength",p.tw).attr("lengthAdjust","spacingAndGlyphs").text(p.title);

  // grid
  const grid = g.append("g").attr("stroke","#c4c4c4").attr("stroke-width",1).attr("stroke-dasharray","1.5,4");
  monthDays.slice(1).forEach(d=>{
    grid.append("line").attr("x1",x(d)).attr("x2",x(d)).attr("y1",y0).attr("y2",y1);
  });
  p.ticks.forEach(t=>{
    const yy = y(t);
    if (yy > y0+2 && yy < y1-2) grid.append("line").attr("x1",x0).attr("x2",x1).attr("y1",yy).attr("y2",yy);
  });

  // y axis
  const yAxis = d3.axisLeft(y).tickValues(p.ticks)
     .tickFormat((d,k)=>p.labels[k]).tickSize(3).tickSizeOuter(0).tickPadding(2);
  const ya = g.append("g").attr("transform",`translate(${x0},0)`).call(yAxis);
  ya.select(".domain").remove();
  ya.selectAll("line").attr("stroke","#888");
  ya.selectAll("text").attr("font-family",TICKFONT).attr("font-size",10).attr("fill","#808080");
  if (p.clipLabelsAt){
    const cid = "lc"+i;
    defs.append("clipPath").attr("id",cid).append("rect")
       .attr("x",p.clipLabelsAt - x0).attr("y",-10).attr("width",500).attr("height",1100);
    ya.attr("clip-path",`url(#${cid})`);
  }

  // x axis
  const xAxis = d3.axisBottom(x).tickValues(monthDays)
     .tickFormat((d,k)=>monthLabels[k]).tickSize(0).tickPadding(7);
  const xa = g.append("g").attr("transform",`translate(0,${y1})`).call(xAxis);
  xa.select(".domain").remove();
  xa.selectAll("text").attr("font-family",TICKFONT).attr("font-size",10).attr("fill","#808080");
  yearDays.forEach((d,k)=>{
    g.append("text").attr("x",x(d)).attr("y",y1+23).attr("text-anchor","middle")
     .attr("font-family",TICKFONT).attr("font-size",10).attr("fill","#808080").text(yearLabels[k]);
  });

  // clip for data
  const clipId = "pc"+i;
  defs.append("clipPath").attr("id",clipId).append("rect")
     .attr("x",x0).attr("y",y0).attr("width",x1-x0).attr("height",y1-y0);
  const dg = g.append("g").attr("clip-path",`url(#${clipId})`);

  const line = d3.line().defined(d=>d!==null).x(d=>x(d[0])).y(d=>y(d[1]));
  p.series.forEach(([c,data])=>{
    dg.append("path").attr("d",line(data)).attr("fill","none")
      .attr("stroke",COL[c]).attr("stroke-width",1.7).attr("stroke-linejoin","round");
  });
  if (p.obs){
    dg.selectAll("rect.obs").data(p.obs).enter().append("rect").attr("class","obs")
      .attr("x",d=>x(d[0])-3.5).attr("y",d=>y(d[1])-3.5).attr("width",7).attr("height",7)
      .attr("fill",COL.orange);
  }

  // frame
  g.append("rect").attr("x",x0).attr("y",y0).attr("width",x1-x0).attr("height",y1-y0)
   .attr("fill","none").attr("stroke","#666").attr("stroke-width",2);
});

// red annotation ellipses
svg.append("g").selectAll("ellipse").data(ellipses).enter().append("ellipse")
  .attr("cx",d=>d.cx).attr("cy",d=>d.cy).attr("rx",d=>d.rx).attr("ry",d=>d.ry)
  .attr("fill","none").attr("stroke","#e81010").attr("stroke-width",4.5);
</script>
</body></html>
